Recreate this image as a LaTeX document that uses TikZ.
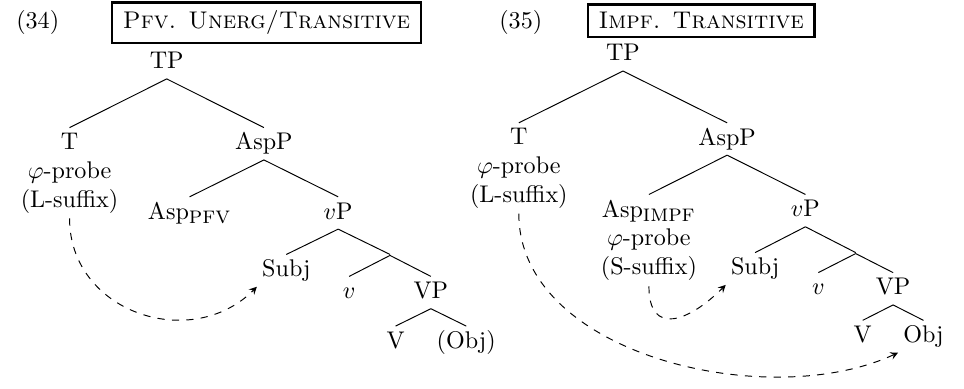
\documentclass[tikz,border=0pt]{standalone}
\begin{document}
\begin{tikzpicture}[
  syn/.style={inner sep=2pt, text height=7pt, text depth=2pt},
  stack/.style={align=center, text height=, text depth=},
  bar/.style={inner sep=0pt, minimum size=0pt, text height=0pt, text depth=0pt},
  title/.style={draw, line width=1pt, font=\scshape, inner xsep=4.5pt, anchor=base},
  move/.style={dashed, -stealth},
  every child node/.style={syn, anchor=north},
  growth parent anchor=south,
  edge from parent path={(\tikzparentnode.south) -- (\tikzchildnode.north)}]

\useasboundingbox (0,0) rectangle (14.05,-5.66);

\node [anchor=base] (ex1) at (0.55,-0.42) {(34)};
\node [title] (h1) at (3.885,-0.42) {Pfv. Unerg/Transitive};
\node [anchor=base] (ex2) at (7.59,-0.42) {(35)};
\node [title] (h2) at (10.22,-0.42) {Impf. Transitive};

\begin{scope}[level 1/.style={level distance=20.2pt, sibling distance=80.6pt},
  level 2/.style={level distance=15.3pt, sibling distance=61.6pt},
  level 3/.style={level distance=10.5pt, sibling distance=43pt},
  level 4/.style={level distance=8.7pt, sibling distance=33.9pt},
  level 5/.style={level distance=7.2pt, sibling distance=29.3pt}]
\node [syn, anchor=south] (tp1) at (2.43,-1.15) {TP}
  child {node [stack] (t1) {T\\$\varphi$-probe\\(L-suffix)}}
  child {node (asp1) {AspP}
    child {node (pfv1) {Asp$_{\textsc{pfv}}$}}
    child {node (vp1) {$v$P}
      child {node (subj1) {Subj}}
      child {node [bar] (vb1) {}
        child {node (lv1) {$v$}}
        child {node (vpp1) {VP}
          child {node (verb1) {V}}
          child {node (obj1) {(Obj)}}
        }
      }
    }
  };
\end{scope}

\begin{scope}[level 1/.style={level distance=21.5pt, sibling distance=86.4pt},
  level 2/.style={level distance=16.3pt, sibling distance=64.9pt},
  level 3/.style={level distance=10.7pt, sibling distance=41.7pt},
  level 4/.style={level distance=7.9pt, sibling distance=31pt},
  level 5/.style={level distance=6.4pt, sibling distance=25.2pt}]
\node [syn, anchor=south] (tp2) at (9.08,-1.035) {TP}
  child {node [stack] (t2) {T\\$\varphi$-probe\\(L-suffix)}}
  child {node (asp2) {AspP}
    child {node [stack] (impf2) {Asp$_{\textsc{impf}}$\\$\varphi$-probe\\(S-suffix)}}
    child {node (vp2) {$v$P}
      child {node (subj2) {Subj}}
      child {node [bar] (vb2) {}
        child {node (lv2) {$v$}}
        child {node (vpp2) {VP}
          child {node (verb2) {V}}
          child {node (obj2) {Obj}}
        }
      }
    }
  };
\end{scope}

\draw [move] (t1.south) to [out=-90, in=-135, looseness=1.2] (subj1.south west);
\draw [move] (t2.south) to [out=-90, in=-155, looseness=0.9] (obj2.south west);
\draw [move] (impf2.south) to [out=-90, in=-135, looseness=1.7] (subj2.south west);

\end{tikzpicture}
\end{document}
